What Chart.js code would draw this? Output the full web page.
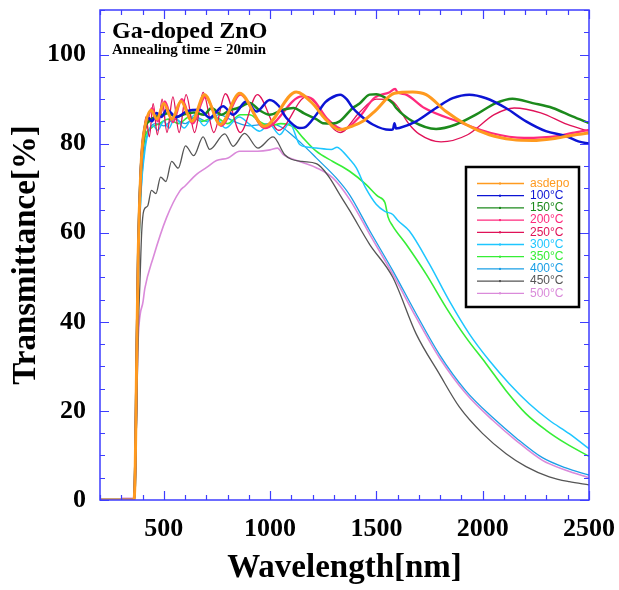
<!DOCTYPE html>
<html lang="en">
<head>
<meta charset="UTF-8">
<title>Ga-doped ZnO transmittance</title>
<script src="https://cdn.jsdelivr.net/npm/chart.js"></script>
<style>
  html, body { margin: 0; padding: 0; background: #fff; }
</style>
</head>
<body>
<canvas id="chart" width="619" height="590"></canvas>
<script>
// [wavelength nm, transmittance %]
const asdepo = [[200,0],[360,0],[366,8],[372,30],[380,56],[392,74],[400,80],[414,84.5],[440,87.5],[468,85.5],[500,89],[538,85.5],[581,89.5],[632,85],[692,91],[766,84.3],[857,91.3],[973,83.9],[1123,91.6],[1200,89],[1260,85.5],[1327,83.1],[1390,84],[1436,85],[1491,87.2],[1585,91.3],[1671,91.6],[1734,91],[1828,87.2],[1921,84.3],[2031,82],[2140,80.9],[2235,80.7],[2329,81.1],[2422,81.9],[2500,82.4]];
const t100 = [[200,0],[360,0],[366,8],[372,30],[380,56],[392,74],[400,80],[412,84],[427,85.8],[445,85],[466,86.9],[490,86],[513,87.6],[560,86],[610,87.3],[669,87.6],[716,85.8],[779,88.4],[826,86.5],[889,89.5],[936,87.2],[998,89.8],[1040,88.5],[1076,85.8],[1139,83.5],[1160,83.6],[1217,86.5],[1260,89.3],[1311,90.8],[1330,91],[1360,90],[1389,88],[1421,86.5],[1483,84.3],[1562,83.1],[1578,83.2],[1585,84.6],[1592,83.4],[1608,83.5],[1687,85],[1781,88],[1859,90.2],[1937,91],[2016,90.2],[2109,88],[2204,85],[2297,82.8],[2391,81.7],[2450,80.5],[2500,80]];
const t150 = [[200,0],[360,0],[366,8],[372,30],[380,56],[392,74],[400,79],[412,83.5],[430,85],[460,86],[500,86.5],[521,86.9],[560,86],[591,86.5],[640,87],[690,86.5],[724,88],[771,86.5],[810,87.5],[849,88],[904,89.1],[950,87.5],[998,86.5],[1061,87.6],[1110,88],[1160,86.8],[1217,85.5],[1248,84.6],[1295,84.5],[1327,85],[1389,88],[1421,89],[1468,91],[1500,91.1],[1530,90.6],[1577,89.1],[1593,88],[1671,85],[1781,83.3],[1874,84.3],[1968,86.5],[2062,89.1],[2140,90.1],[2235,89.1],[2329,88],[2422,86.1],[2500,84.6]];
const t200 = [[200,0],[360,0],[366,8],[372,30],[380,56],[392,74],[400,80],[418,84],[445,88],[472,85],[505,89.5],[543,84.8],[585,90],[635,84.5],[695,90.5],[770,84],[860,91],[975,83.5],[1150,90.6],[1200,90],[1270,85.5],[1345,83.2],[1420,86],[1491,90.3],[1560,91.5],[1588,92.3],[1600,91.5],[1640,91],[1726,88],[1882,85],[2039,82.4],[2195,81.3],[2352,81.7],[2422,82.4],[2500,83.1]];
const t250 = [[200,0],[360,0],[366,8],[372,30],[380,56],[392,74],[400,79],[416,86],[432,81.5],[450,89],[470,82],[492,90],[515,82.5],[543,90.5],[572,82.5],[605,91],[645,82.5],[685,91.5],[735,82.5],[790,91.2],[860,82.5],[940,91],[1040,83],[1170,90.5],[1330,82.5],[1420,87],[1500,90],[1562,89.9],[1593,88.7],[1655,84.3],[1700,82.2],[1804,80.4],[1929,82],[2054,86.5],[2148,88],[2273,86.9],[2398,84.3],[2500,82.8]];
const t300 = [[200,0],[360,0],[366,7],[372,26],[380,50],[392,68],[410,78],[427,82.5],[450,84],[472,83],[500,85],[525,83.5],[552,86],[595,83.5],[646,86.5],[690,84],[735,86.5],[790,83.5],[855,86],[904,84.3],[951,82.8],[998,84.3],[1045,82],[1092,84.6],[1139,79.8],[1180,79.2],[1217,79],[1288,78.7],[1315,79.2],[1334,78.6],[1374,76.5],[1405,74.6],[1450,70],[1499,66.4],[1540,64.8],[1577,64.1],[1600,62.8],[1655,60.4],[1749,53],[1843,44.7],[1937,37.3],[2031,31.3],[2125,26.1],[2219,21.6],[2313,17.9],[2407,14.9],[2500,11.5]];
const t350 = [[200,0],[360,0],[366,8],[372,30],[380,56],[392,74],[400,78],[415,82],[440,83.5],[480,84.5],[520,85.5],[570,84.5],[620,86],[680,85],[740,86],[800,84.5],[860,86.5],[904,86.5],[950,85],[998,84],[1050,84.5],[1108,83.8],[1155,81.3],[1217,78.3],[1295,76],[1374,73.8],[1452,70.8],[1506,68.2],[1540,66.8],[1555,63.5],[1577,61.5],[1640,57.4],[1734,50.7],[1828,43.2],[1921,36.5],[2016,30.6],[2109,24.6],[2203,19.4],[2297,15.7],[2391,12.7],[2500,9.8]];
const t400 = [[200,0],[360,0],[366,7],[372,26],[380,50],[392,68],[410,79],[430,83],[460,84.5],[500,84],[550,85.5],[600,84.5],[650,86],[700,85],[760,86.5],[830,85],[904,84],[1000,84.5],[1061,83.5],[1108,81.7],[1160,79.5],[1217,76.8],[1311,72.3],[1374,68.5],[1468,60.5],[1577,51.5],[1687,41.8],[1796,32.7],[1921,24.5],[2047,18.5],[2156,14],[2281,9.5],[2391,7.2],[2500,5.6]];
const t450 = [[200,0],[360,0],[366,6],[372,18],[380,38],[388,49],[396,60],[406,65],[424,66],[442,69.5],[463,68.8],[485,72.5],[510,71.5],[537,76],[568,74.5],[602,79.5],[641,77.3],[685,81.5],[716,78.7],[787,82.2],[826,79.4],[880,82.3],[943,79],[1014,81.5],[1069,77.5],[1100,76.5],[1150,76],[1217,75.5],[1250,74.2],[1280,72.3],[1335,68],[1374,65],[1468,57.4],[1577,50],[1687,37.3],[1796,28.3],[1890,20.9],[2000,14.9],[2110,10.4],[2204,7.5],[2313,5.2],[2407,4.1],[2500,3.4]];
const t500 = [[200,0],[300,0],[303,0.4],[355,0.4],[362,0.5],[368,10],[375,28],[380,36.5],[403,44.7],[411,47.5],[450,54.4],[513,63.4],[576,69.4],[600,70.5],[654,73.1],[700,74.6],[748,76.2],[802,76.8],[857,78.3],[941,78.3],[1000,78.6],[1035,79],[1061,77.6],[1139,76],[1217,74.6],[1295,72.3],[1374,67.5],[1468,59.7],[1577,50.7],[1687,41],[1796,32],[1921,23.9],[2047,17.9],[2156,13.4],[2281,8.9],[2391,6.7],[2500,5]];

const seriesData = [asdepo, t100, t150, t200, t250, t300, t350, t400, t450, t500];
const seriesLabels = ['asdepo', '100°C', '150°C', '200°C', '250°C', '300°C', '350°C', '400°C', '450°C', '500°C'];
const seriesColors = ['#ff9a1f', '#0c14d4', '#1c8a1c', '#ff2a7c', '#e01258', '#1ec6ff', '#36ee36', '#1a9fe6', '#555555', '#da8ada'];
const seriesWidths = [3, 2.5, 2.5, 2.2, 1.3, 1.5, 1.6, 1.3, 1.3, 1.6];
const xTickLabels = [500, 1000, 1500, 2000, 2500];
const yTickLabels = [0, 20, 40, 60, 80, 100];

const serif = "'Liberation Serif', 'Times New Roman', serif";

// inward ticks + blue frame, like the original plotting program
const framePlugin = {
    id: 'frame',
    afterDatasetsDraw(chart) {
        const {ctx, chartArea: a, scales: {x, y}} = chart;
        ctx.save();
        ctx.strokeStyle = '#3d3dff';
        ctx.lineWidth = 1.5;
        ctx.strokeRect(a.left, a.top, a.right - a.left, a.bottom - a.top);
        ctx.lineWidth = 1.2;
        ctx.beginPath();
        x.ticks.forEach(t => {
            const px = Math.round(x.getPixelForValue(t.value)) + 0.5;
            const len = xTickLabels.includes(t.value) ? 9 : 5;
            ctx.moveTo(px, a.bottom); ctx.lineTo(px, a.bottom - len);
            ctx.moveTo(px, a.top); ctx.lineTo(px, a.top + len);
        });
        y.ticks.forEach(t => {
            const py = Math.round(y.getPixelForValue(t.value)) + 0.5;
            const len = yTickLabels.includes(t.value) ? 9 : 5;
            ctx.moveTo(a.left, py); ctx.lineTo(a.left + len, py);
            ctx.moveTo(a.right, py); ctx.lineTo(a.right - len, py);
        });
        ctx.stroke();
        ctx.restore();
    },
    afterDraw(chart) {
        const {ctx, chartArea: a} = chart;
        ctx.save();
        // heading inside the plot
        ctx.fillStyle = '#000';
        ctx.textBaseline = 'alphabetic';
        ctx.font = 'bold 24px ' + serif;
        ctx.fillText('Ga-doped ZnO', a.left + 12, a.top + 28);
        ctx.font = 'bold 15px ' + serif;
        ctx.fillText('Annealing time = 20min', a.left + 12, a.top + 44);

        // boxed legend
        const bx = 466, by = 167, bw = 113, bh = 140;
        ctx.fillStyle = '#fff';
        ctx.fillRect(bx, by, bw, bh);
        ctx.strokeStyle = '#000';
        ctx.lineWidth = 2.5;
        ctx.strokeRect(bx, by, bw, bh);
        ctx.font = "12px 'Liberation Sans', Arial, sans-serif";
        ctx.textBaseline = 'middle';
        seriesLabels.forEach((label, i) => {
            const ly = by + 16.5 + i * 12.2;
            ctx.strokeStyle = seriesColors[i];
            ctx.lineWidth = 1.3;
            ctx.beginPath();
            ctx.moveTo(477, ly); ctx.lineTo(524, ly);
            ctx.stroke();
            ctx.fillStyle = seriesColors[i];
            ctx.fillRect(499, ly - 1, 2, 2);
            ctx.fillText(label, 530, ly);
        });
        ctx.restore();
    }
};

new Chart(document.getElementById('chart'), {
    type: 'line',
    data: {
        datasets: seriesData.map((arr, i) => ({
            label: seriesLabels[i],
            data: arr.map(p => ({x: p[0], y: p[1]})),
            borderColor: seriesColors[i],
            backgroundColor: seriesColors[i],
            borderWidth: seriesWidths[i],
            pointRadius: 0,
            fill: false,
            cubicInterpolationMode: 'monotone'
        }))
    },
    options: {
        responsive: false,
        animation: false,
        events: [],
        layout: { padding: { top: 10, right: 30, left: 0, bottom: 0 } },
        plugins: { legend: { display: false }, tooltip: { enabled: false } },
        scales: {
            x: {
                type: 'linear',
                min: 200,
                max: 2500,
                grid: { display: false, drawTicks: false },
                border: { display: false },
                ticks: {
                    stepSize: 100,
                    autoSkip: false,
                    maxRotation: 0,
                    padding: 14,
                    color: '#000',
                    font: { family: serif, weight: 'bold', size: 26 },
                    callback: v => xTickLabels.includes(v) ? String(v) : ''
                },
                title: {
                    display: true,
                    text: 'Wavelength[nm]',
                    color: '#000',
                    font: { family: serif, weight: 'bold', size: 33 },
                    padding: { top: 0, bottom: 2 }
                },
                afterFit(scale) {
                    scale.height = 90;
                    scale.paddingLeft = 0;
                    scale.paddingRight = 0;
                }
            },
            y: {
                min: 0,
                max: 110,
                grid: { display: false, drawTicks: false },
                border: { display: false },
                ticks: {
                    stepSize: 5,
                    autoSkip: false,
                    padding: 14,
                    color: '#000',
                    font: { family: serif, weight: 'bold', size: 26 },
                    callback: v => yTickLabels.includes(v) ? String(v) : ''
                },
                title: {
                    display: true,
                    text: 'Transmittance[%]',
                    color: '#000',
                    font: { family: serif, weight: 'bold', size: 33 },
                    padding: { top: 7, bottom: 0 }
                },
                afterFit(scale) {
                    scale.width = 100;
                    scale.paddingTop = 0;
                    scale.paddingBottom = 0;
                }
            }
        }
    },
    plugins: [framePlugin]
});
</script>
</body>
</html>
